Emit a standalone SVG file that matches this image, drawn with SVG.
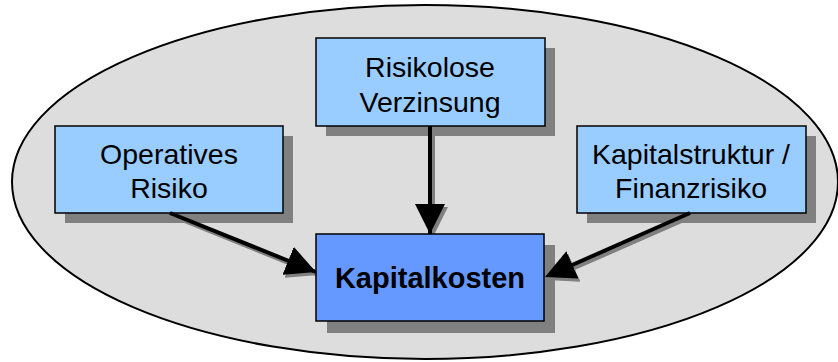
<svg xmlns="http://www.w3.org/2000/svg" width="838" height="362" viewBox="0 0 838 362">
<style>
.box{fill:#99CCFF;stroke:#000;stroke-width:1.5}
.main{fill:#6699FF;stroke:#000;stroke-width:1.5}
.sh{fill:#808080}
.t{font-family:"Liberation Sans",Arial,sans-serif;font-size:28.5px;fill:#000;text-anchor:middle}
.b{font-weight:bold;font-size:29px}
.ln{stroke:#000;stroke-width:4;fill:none}
.lns{stroke:#808080;stroke-width:4;fill:none}
</style>
<defs>
<marker id="ah" viewBox="0 0 10 10" refX="10" refY="5" markerWidth="7.5" markerHeight="7.5" markerUnits="strokeWidth" orient="auto">
<path d="M0,0 L10,5 L0,10 z" fill="#000"/>
</marker>
<marker id="ahs" viewBox="0 0 10 10" refX="10" refY="5" markerWidth="7.5" markerHeight="7.5" markerUnits="strokeWidth" orient="auto">
<path d="M0,0 L10,5 L0,10 z" fill="#808080"/>
</marker>
</defs>
<ellipse id="bg" cx="425" cy="182" rx="413" ry="177" fill="#DDDDDD" stroke="#000" stroke-width="2"/>
<g id="risikolose">
<rect class="sh" x="326" y="48" width="229" height="88"/>
<rect class="box" x="316" y="38" width="229" height="88"/>
<text class="t" x="430" y="77">Risikolose</text>
<text class="t" x="430" y="112">Verzinsung</text>
</g>
<g id="operatives">
<rect class="sh" x="65" y="136" width="228" height="87"/>
<rect class="box" x="55" y="126" width="228" height="87"/>
<text class="t" x="169" y="164">Operatives</text>
<text class="t" x="169" y="198">Risiko</text>
</g>
<g id="kapitalstruktur">
<rect class="sh" x="587" y="136" width="229" height="87"/>
<rect class="box" x="577" y="126" width="229" height="87"/>
<text class="t" x="691" y="164">Kapitalstruktur /</text>
<text class="t" x="691" y="198">Finanzrisiko</text>
</g>
<g id="connectors">
<line class="lns" x1="172" y1="216" x2="318" y2="275" marker-end="url(#ahs)"/>
<line class="lns" x1="433" y1="129" x2="433" y2="237" marker-end="url(#ahs)"/>
<line class="lns" x1="693" y1="216" x2="547" y2="280" marker-end="url(#ahs)"/>
<line class="ln" x1="170" y1="213" x2="316" y2="272"/>
<line class="ln" x1="430" y1="126" x2="430" y2="234"/>
<line class="ln" x1="690" y1="213" x2="545" y2="277"/>
</g>
<g id="kapitalkosten">
<rect class="sh" x="327" y="245" width="228" height="88"/>
<rect class="main" x="316" y="234" width="228" height="87"/>
<text class="t b" x="430" y="288">Kapitalkosten</text>
</g>
<g id="heads">
<line class="ln" x1="170" y1="213" x2="316" y2="272" stroke-opacity="0" marker-end="url(#ah)"/>
<line class="ln" x1="430" y1="126" x2="430" y2="234" stroke-opacity="0" marker-end="url(#ah)"/>
<line class="ln" x1="690" y1="213" x2="545" y2="277" stroke-opacity="0" marker-end="url(#ah)"/>
</g>
</svg>
